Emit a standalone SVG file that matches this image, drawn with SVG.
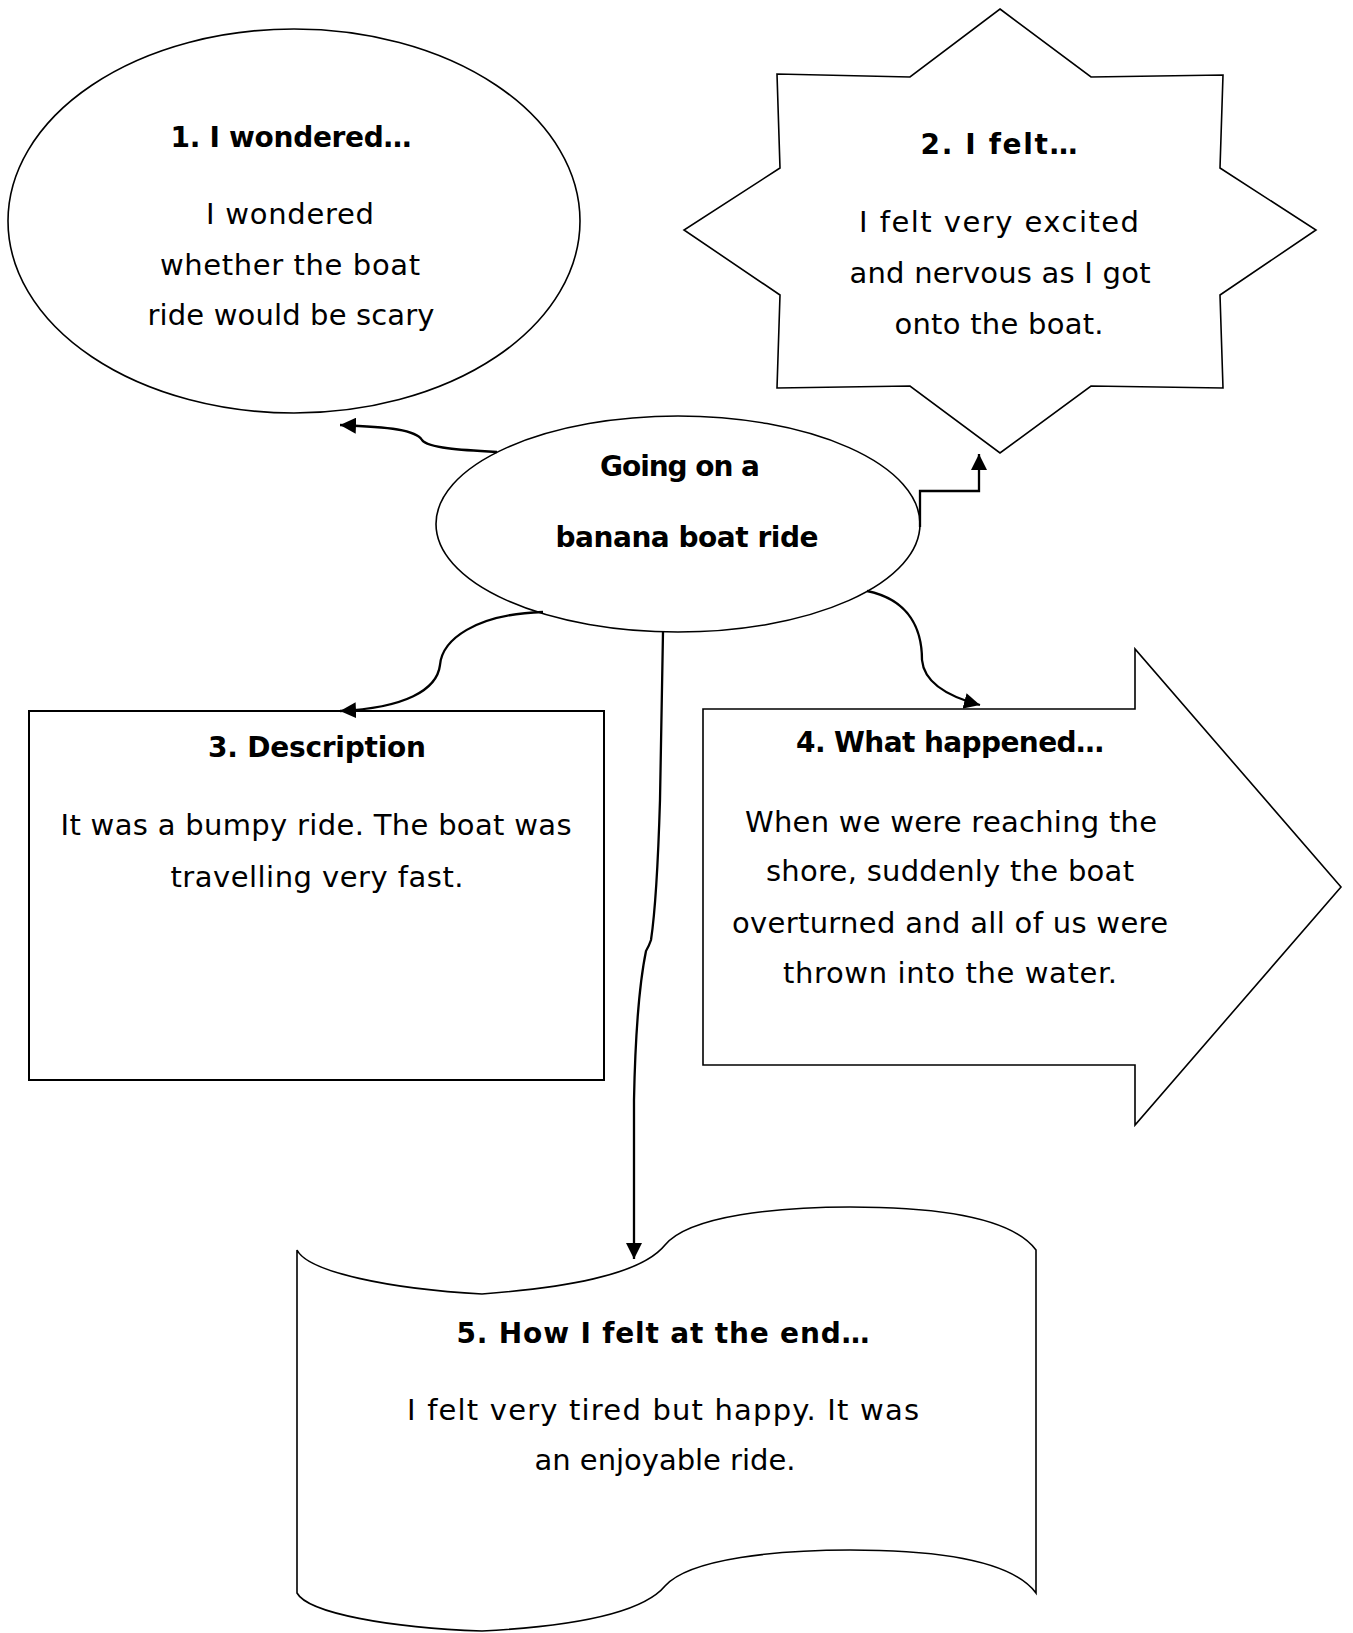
<svg xmlns="http://www.w3.org/2000/svg" width="1353" height="1633" viewBox="0 0 1353 1633">
<style>
.shape{fill:#fff;stroke:#000;stroke-width:1.6}
.conn{fill:none;stroke:#000;stroke-width:2.3}
text{font-family:"DejaVu Sans","Liberation Sans",sans-serif;font-size:29px;fill:#000;text-anchor:middle}
.t{font-weight:bold;font-size:28px}
</style>
<defs>
<marker id="ah" markerUnits="userSpaceOnUse" markerWidth="18" markerHeight="16" refX="16" refY="8" orient="auto">
<path d="M0,0 L16,8 L0,16 Z" fill="#000"/>
</marker>
</defs>
<rect width="1353" height="1633" fill="#fff"/>

<g id="node1">
<ellipse class="shape" cx="294" cy="221" rx="286" ry="192"/>
<text class="t" x="291" y="147" textLength="241">1. I wondered…</text>
<text x="290" y="224" textLength="168">I wondered</text>
<text x="290" y="275" textLength="260">whether the boat</text>
<text x="291" y="325" textLength="287">ride would be scary</text>
</g>

<g id="node2">
<polygon class="shape" points="1000,9 1091,77 1223,75 1220,168 1316,230 1220,295 1223,388 1091,386 1000,453 910,386 777,388 780,295 684,230 780,168 777,74 910,77"/>
<text class="t" x="999" y="154" textLength="157">2. I felt…</text>
<text x="999" y="232" textLength="280">I felt very excited</text>
<text x="1000" y="283" textLength="301">and nervous as I got</text>
<text x="999" y="334" textLength="209">onto the boat.</text>
</g>

<g id="center">
<ellipse class="shape" cx="678" cy="524" rx="242" ry="108"/>
<text class="t" x="680" y="476" textLength="160">Going on a</text>
<text class="t" x="687" y="547" textLength="263">banana boat ride</text>
</g>

<g id="node3">
<rect class="shape" x="29" y="711" width="575" height="369" style="stroke-width:2"/>
<text class="t" x="317" y="757" textLength="218">3. Description</text>
<text x="316" y="835" textLength="511">It was a bumpy ride. The boat was</text>
<text x="317" y="887" textLength="293">travelling very fast.</text>
</g>

<g id="node4">
<polygon class="shape" points="703,709 1135,709 1135,649 1341,887 1135,1125 1135,1065 703,1065"/>
<text class="t" x="950" y="752" textLength="308">4. What happened…</text>
<text x="951" y="832" textLength="412">When we were reaching the</text>
<text x="950" y="881" textLength="368">shore, suddenly the boat</text>
<text x="950" y="933" textLength="436">overturned and all of us were</text>
<text x="950" y="983" textLength="334">thrown into the water.</text>
</g>

<g id="node5">
<path class="shape" d="M297,1250 C308,1272 390,1289 482,1294 C560,1288 640,1276 665,1245 C690,1215 780,1207 850,1207 C930,1207 1010,1215 1036,1250 L1036,1593 C1010,1558 930,1550 850,1550 C780,1550 690,1558 665,1586 C640,1616 560,1627 482,1631 C390,1628 308,1613 297,1593 Z"/>
<text class="t" x="663" y="1343" textLength="413">5. How I felt at the end…</text>
<text x="663" y="1420" textLength="512">I felt very tired but happy. It was</text>
<text x="665" y="1470" textLength="261">an enjoyable ride.</text>
</g>

<g id="connectors">
<path class="conn" marker-end="url(#ah)" d="M497,452 C460,450 428,448 422,440 C416,430 390,427 340,425"/>
<path class="conn" marker-end="url(#ah)" d="M920,527 L920,491 L979,491 L979,454"/>
<path class="conn" marker-end="url(#ah)" d="M543,612 C475,614 442,640 440,665 C437,690 405,708 340,711"/>
<path class="conn" marker-end="url(#ah)" d="M867,591 C910,600 922,630 922,660 C924,682 946,696 980,705"/>
<path class="conn" marker-end="url(#ah)" d="M663,632 L660,800 Q657,900 651,940 Q649,946 646,951 Q636,1000 634,1100 L634,1259"/>
</g>
</svg>
